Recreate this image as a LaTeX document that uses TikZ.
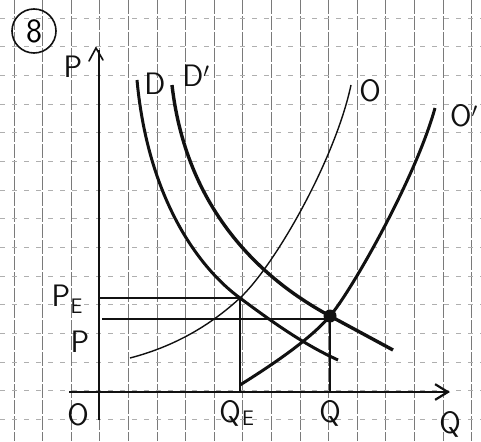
\documentclass[tikz,border=0pt]{standalone}
\usepackage{tikz}
\usetikzlibrary{arrows.meta,positioning,calc}
\definecolor{penink}{HTML}{111111}
\definecolor{gridink}{HTML}{7A7A7A}
\tikzset{
  vgrid/.style={draw=gridink, line width=0.9pt, dash pattern=on 14pt off 2pt},
  hgrid/.style={draw=gridink!60, line width=0.6pt, dash pattern=on 5pt off 7pt},
  axisline/.style={draw=penink, line width=2.2pt},
  demand/.style={draw=penink, line width=3pt},
  supply/.style={draw=penink, line width=1.4pt},
  guide/.style={draw=penink, line width=1.1pt},
  handtxt/.style={font=\sffamily\fontsize{31}{33}\selectfont, text=penink, inner sep=0pt},
  subtxt/.style={font=\sffamily\fontsize{21}{23}\selectfont, text=penink, inner sep=0pt}
}
\begin{document}
\begin{tikzpicture}[x=1pt,y=-1pt]
  \useasboundingbox (0,0) rectangle (481,441);
  \fill[white] (0,0) rectangle (481,441);
  % squared paper
  \foreach \k in {0,...,16}
    \draw[vgrid] ({14+28.6*\k},0) -- ({14+28.6*\k},441);
  \foreach \k in {0,...,14}
    \draw[hgrid] (0,{18+28.65*\k}) -- (481,{18+28.65*\k});

  % axes
  \coordinate (orig) at (99,392);
  \coordinate (ytop) at (99,50);
  \coordinate (ybot) at (99,420);
  \coordinate (xleft) at (69,392);
  \coordinate (xright) at (450,392);
  \draw[axisline] (ybot) -- (ytop);
  \draw[axisline, line width=1.6pt, line cap=round] (89,61) -- (96,48) -- (103,60);
  \draw[axisline, -{Straight Barb[length=4.5mm,width=5.5mm]}] (xleft) -- (xright);

  % equilibria
  \coordinate (E) at (240,298);
  \coordinate (E2) at (330,316);
  \coordinate (plft) at (102,319);

  % demand curves
  \draw[demand] (137,80) .. controls (148,200) and (200,269) .. (E)
    .. controls (275,324) and (305,345) .. (338,360);
  \draw[demand, line width=3.4pt] (172,85) .. controls (188,225) and (280,289) .. (E2)
    -- (393,350);
  % supply curves
  \draw[supply] (130,358) .. controls (180,345) and (215,321) .. (E)
    .. controls (275,265) and (335,160) .. (351,85);
  \draw[demand] (240,385) .. controls (280,360) and (312,337) .. (E2)
    .. controls (350,293) and (415,180) .. (435,108);

  % guide lines
  \draw[guide] (orig |- E) -- (E);
  \draw[guide] (plft) -- (plft -| E2);
  \draw[axisline] (E) -- (E |- orig);
  \draw[axisline] (E2) -- (E2 |- orig);
  \fill[penink] (E2) circle (6.5pt);

  % labels
  \node[draw=penink, line width=1.6pt, circle, minimum size=44pt, inner sep=0pt,
    font=\sffamily\fontsize{34}{36}\selectfont] (tag) at (34,31) {8};
  \node[handtxt] (plab) at (73,67) {P};
  \node[handtxt] (dlab) at (155,84) {D};
  \node[handtxt] (d2lab) at (196,76) {D$'$};
  \node[handtxt] (olab) at (370,91) {O};
  \node[handtxt] (o2lab) at (464,116) {O$'$};
  \node[handtxt] (pelab) at (61,296) {P};
  \node[subtxt, below right=-8pt and 0pt of pelab] (pesub) {E};
  \node[handtxt] (p2lab) at (80,342) {P};
  \node[handtxt] (olab0) at (78,415) {O};
  \node[handtxt] (qelab) at (230,413) {Q};
  \node[subtxt, right=1pt of qelab, yshift=-5pt] (qesub) {E};
  \node[handtxt] (qlab) at (330,413) {Q};
  \node[handtxt] (qaxis) at (450,424) {Q};
\end{tikzpicture}
\end{document}
